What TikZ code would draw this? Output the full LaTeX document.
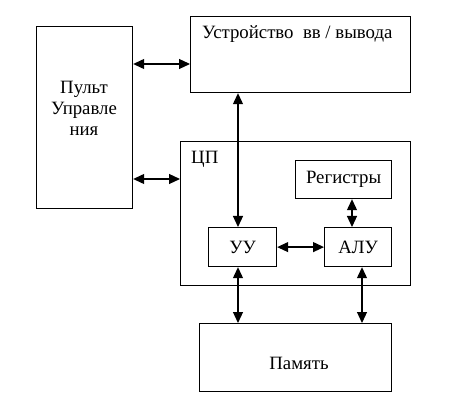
\documentclass[tikz,border=0pt]{standalone}
\usepackage{fontspec}
\setmainfont{Liberation Serif}
\usetikzlibrary{arrows.meta}
\begin{document}
\begin{tikzpicture}[x=1pt,y=-1pt,
  box/.style={draw,line width=1.2pt,anchor=north west,inner sep=0pt},
  lbl/.style={font=\fontsize{18.8}{21}\selectfont,inner sep=0pt},
  link/.style={line width=1.2pt,{Triangle[length=11pt,width=10pt]}-{Triangle[length=11pt,width=10pt]}}]
\useasboundingbox (0,0) rectangle (474,406);
% boxes
\node[box,minimum width=96pt,minimum height=182pt] (P) at (36,26) {};
\node[box,minimum width=220pt,minimum height=76pt] (U) at (190,16) {};
\node[box,minimum width=230pt,minimum height=144pt] (C) at (180,141) {};
\node[box,minimum width=96pt,minimum height=38pt] (R) at (295,160) {};
\node[box,minimum width=68pt,minimum height=39pt] (UU) at (208,227) {};
\node[box,minimum width=67pt,minimum height=39pt] (A) at (324,227) {};
\node[box,minimum width=192pt,minimum height=68pt] (M) at (199,323) {};
% texts
\node[lbl,anchor=west] (tU) at (202,34) {Устройство\ \ вв / вывода};
\node[lbl,align=center] (tP) at (84,108) {Пульт\\Управле\\ния};
\node[lbl,anchor=west] (tC) at (191,159) {ЦП};
\node[lbl] (tR) at (R.center) {Регистры};
\node[lbl] (tUU) at (UU.center) {УУ};
\node[lbl] (tA) at (A.center) {АЛУ};
\node[lbl] (tM) at (299,363) {Память};
% connectors
\draw[link] (P.east |- 0,64) -- (U.west |- 0,64);
\draw[link] (P.east |- 0,179) -- (C.west |- 0,179);
\draw[link] (U.south -| 238,0) -- (UU.north -| 238,0);
\draw[link] (R.south -| 352,0) -- (A.north -| 352,0);
\draw[link] (UU.east) -- (A.west);
\draw[link] (UU.south -| 238,0) -- (M.north -| 238,0);
\draw[link] (A.south -| 362,0) -- (M.north -| 362,0);
\end{tikzpicture}
\end{document}
